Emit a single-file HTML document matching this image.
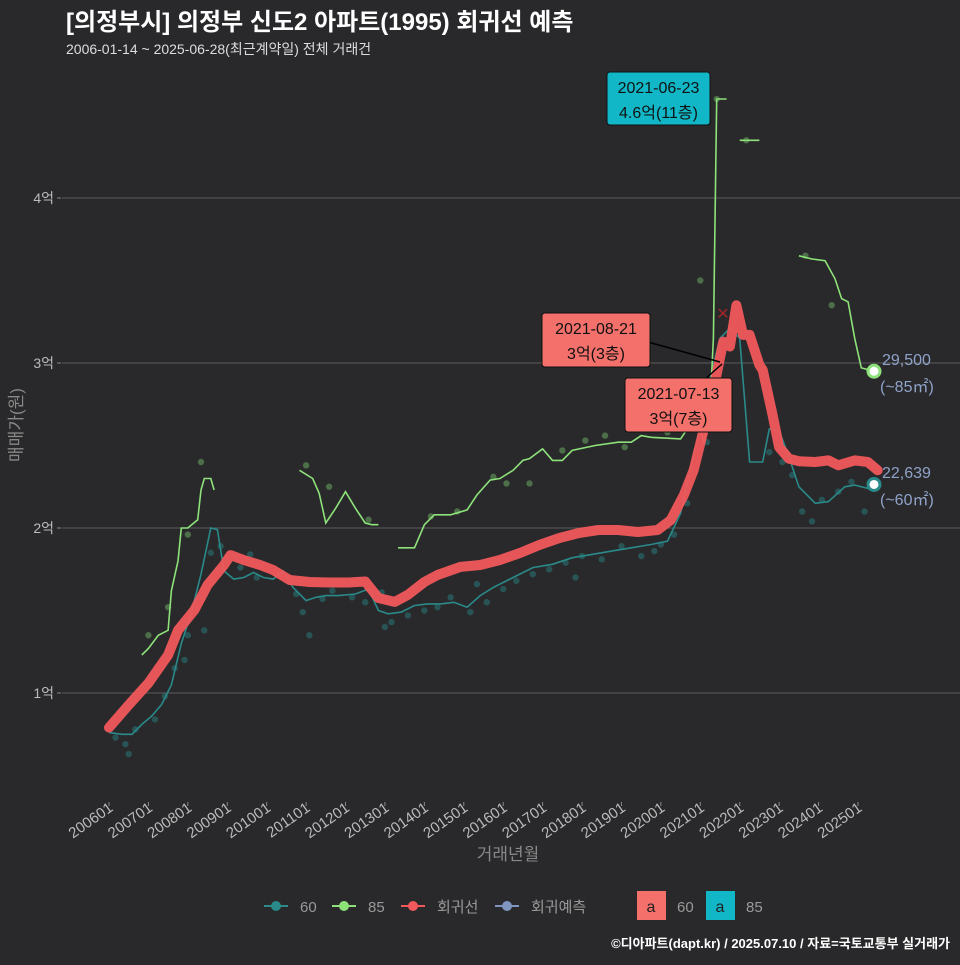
<!DOCTYPE html>
<html><head><meta charset="utf-8">
<style>
body{margin:0;background:#29292b;width:960px;height:960px;overflow:hidden;font-family:"Liberation Sans","Noto Sans CJK KR",sans-serif;}
svg text{font-family:"Liberation Sans","Noto Sans CJK KR",sans-serif;}
</style></head>
<body>
<svg id="chart" width="960" height="960" xmlns="http://www.w3.org/2000/svg">
<rect width="960" height="960" fill="#29292b"/>
<text x="66" y="30" fill="#ffffff" font-size="24" font-weight="bold">[의정부시] 의정부 신도2 아파트(1995) 회귀선 예측</text>
<text x="66" y="54" fill="#dddddd" font-size="14">2006-01-14 ~ 2025-06-28(최근계약일) 전체 거래건</text>
<g id="grid"></g>
<g id="xaxis"></g>
<g id="yaxis"></g>
<text x="508" y="860" fill="#888" font-size="17" text-anchor="middle">거래년월</text>
<text transform="translate(22,425) rotate(-90)" fill="#888" font-size="17" text-anchor="middle">매매가(원)</text>
<g id="marks"></g>
<g>
 <g><line x1="264" y1="906" x2="288" y2="906" stroke="#2a8a8a" stroke-width="2"/><circle cx="276" cy="906" r="5" fill="#2a8a8a"/><text x="300" y="912" fill="#999" font-size="15">60</text></g>
 <g><line x1="332" y1="906" x2="356" y2="906" stroke="#8ee27a" stroke-width="2"/><circle cx="344" cy="906" r="5" fill="#8ee27a"/><text x="368" y="912" fill="#999" font-size="15">85</text></g>
 <g><line x1="401" y1="906" x2="425" y2="906" stroke="#f0595b" stroke-width="2"/><circle cx="413" cy="906" r="5" fill="#f0595b"/><text x="437" y="912" fill="#999" font-size="15">회귀선</text></g>
 <g><line x1="495" y1="906" x2="519" y2="906" stroke="#7f95c0" stroke-width="2"/><circle cx="507" cy="906" r="5" fill="#7f95c0"/><text x="531" y="912" fill="#999" font-size="15">회귀예측</text></g>
 <g><rect x="637" y="891" width="29" height="29" fill="#f4706b"/><text x="651" y="912" fill="#222" font-size="16" text-anchor="middle">a</text><text x="677" y="912" fill="#999" font-size="15">60</text></g>
 <g><rect x="706" y="891" width="29" height="29" fill="#11b7c6"/><text x="720" y="912" fill="#222" font-size="16" text-anchor="middle">a</text><text x="746" y="912" fill="#999" font-size="15">85</text></g>
</g>
<text x="950" y="948" fill="#fff" font-size="13" font-weight="bold" text-anchor="end">©디아파트(dapt.kr) / 2025.07.10 / 자료=국토교통부 실거래가</text>
</svg>
<script>
const yTicks=[10000,20000,30000,40000];
const yTickLabels=["1억","2억","3억","4억"];
const xTickLabels=["200601","200701","200801","200901","201001","201101","201201","201301","201401","201501","201601","201701","201801","201901","202001","202101","202201","202301","202401","202501"];
const regDates=["2006-01","2006-07","2007-01","2007-07","2007-10","2008-03","2008-07","2008-12","2009-02","2009-06","2009-11","2010-03","2010-08","2011-02","2011-08","2012-02","2012-07","2012-11","2013-04","2013-08","2014-01","2014-05","2014-12","2015-06","2015-12","2016-06","2016-12","2017-06","2017-12","2018-06","2018-12","2019-06","2019-12","2020-04","2020-08","2020-11","2021-02","2021-05","2021-08","2021-10","2021-12","2022-02","2022-04","2022-07","2022-08","2022-11","2023-01","2023-04","2023-07","2023-12","2024-04","2024-07","2024-12","2025-04","2025-07"];
const regValues=[7900,9270,10600,12300,13800,15030,16550,17760,18360,18060,17760,17450,16850,16730,16700,16700,16760,15760,15520,15950,16730,17150,17640,17760,18060,18480,18970,19390,19700,19880,19880,19760,19880,20480,22000,23510,25940,28360,31300,31000,33500,31700,31700,29880,29580,26850,24900,24200,24050,24000,24100,23800,24100,24000,23500];
const d85Segs=[
 {dates:["2006-11","2007-01","2007-04","2007-07","2007-08","2007-10","2007-11","2008-01","2008-04","2008-05","2008-06","2008-08","2008-09"],values:[12300,12700,13500,13800,16200,18000,20000,20000,20500,22300,23000,23000,22300]},
 {dates:["2010-11","2011-03","2011-05","2011-07","2011-10","2012-01","2012-04","2012-07","2012-09","2012-11"],values:[23500,23000,22100,20300,21200,22200,21200,20300,20200,20200]},
 {dates:["2013-05","2013-10","2014-01","2014-04","2014-09","2015-02","2015-05","2015-09","2015-12","2016-04","2016-07","2016-09","2017-01","2017-04","2017-07","2017-10","2018-05","2018-12","2019-04","2019-07","2019-10","2020-07","2020-10","2020-12","2021-02","2021-04","2021-05","2021-06","2021-09"],values:[18800,18800,20200,20800,20800,21100,22000,22900,23000,23500,24100,24200,24800,24100,24100,24700,25000,25200,25200,25600,25500,25400,26300,27500,25100,27500,31500,46000,46000]},
 {dates:["2022-01","2022-07"],values:[43500,43500]},
 {dates:["2023-07","2023-11","2024-03","2024-06","2024-08","2024-10","2024-12","2025-02","2025-06"],values:[36500,36300,36200,35100,33900,33700,31500,29700,29500]}
];
const d60Dates=["2006-01","2006-05","2006-08","2006-11","2007-02","2007-05","2007-08","2007-11","2008-02","2008-05","2008-08","2008-10","2008-12","2009-03","2009-06","2009-09","2009-12","2010-03","2010-06","2010-09","2011-01","2011-04","2011-07","2011-11","2012-04","2012-08","2012-11","2013-02","2013-06","2013-10","2014-02","2014-06","2014-10","2015-02","2015-06","2015-10","2016-04","2016-10","2017-04","2017-10","2018-04","2018-10","2019-04","2019-10","2020-03","2020-07","2020-10","2021-01","2021-04","2021-07","2021-10","2022-01","2022-04","2022-08","2022-10","2023-01","2023-04","2023-07","2023-12","2024-04","2024-09","2024-12","2025-06"];
const d60Values=[7600,7500,7500,8100,8600,9300,10500,13000,14800,17200,20000,19900,17400,16900,17000,17300,17000,16900,17400,16400,15600,15800,15900,15900,16000,16300,15000,14800,14900,15300,15400,15400,15500,15200,15900,16400,17000,17600,17800,18200,18400,18600,18800,19000,19200,20900,23600,26000,29100,31500,32100,31500,24000,24000,26000,25900,24300,22500,21500,21600,22500,22600,22300];
const d85PtsDates=["2007-01","2007-07","2008-05","2008-01","2011-01","2011-08","2012-08","2014-03","2014-11","2015-10","2016-02","2017-07","2018-08","2019-02","2020-03","2021-01","2021-06","2022-03","2023-09","2024-05","2016-09","2018-02"];
const d85PtsValues=[13500,15200,24000,19600,23800,22500,20500,20700,21000,23100,22700,24700,25600,24900,25800,35000,46000,43500,36500,33500,22700,25300];
const d60PtsDates=["2006-03","2006-06","2006-07","2006-09","2007-03","2007-06","2007-09","2008-01","2008-04","2008-08","2008-11","2009-05","2009-10","2010-05","2010-10","2011-02","2011-06","2011-09","2012-03","2012-07","2013-01","2013-03","2013-08","2014-01","2014-05","2014-09","2015-03","2015-08","2016-01","2016-05","2016-10","2017-03","2017-08","2018-01","2018-07","2019-01","2019-07","2020-01","2020-05","2020-09","2021-03","2022-10","2023-02","2023-05","2023-08","2023-11","2024-02","2024-07","2024-11","2025-03","2007-12","2009-08","2012-12","2015-05","2017-11","2019-11","2008-06","2010-12"];
const d60PtsValues=[7300,6900,6300,7800,8400,9800,11500,13500,15800,18500,18900,17600,17000,17200,16000,13500,15700,16200,15800,15500,14000,14300,14700,15000,15200,15800,14900,15500,16300,16800,17200,17500,17900,18300,18100,18900,18300,19000,19600,21500,25200,24600,24000,23200,21000,20400,21700,22200,22800,21000,12000,18400,16100,16600,17000,18600,13800,14900];

const NS="http://www.w3.org/2000/svg";
function X(d){const p=d.split("-").map(Number);const m=(p[0]-2006)*12+(p[1]-1)+((p[2]||1)-1)/30;return 109+m/12*39.42;}
function Y(v){return 693-(v-10000)*0.0165;}
function mk(tag,attrs,parent){const e=document.createElementNS(NS,tag);for(const k in attrs)e.setAttribute(k,attrs[k]);parent.appendChild(e);return e;}
const grid=document.getElementById("grid"),xa=document.getElementById("xaxis"),ya=document.getElementById("yaxis"),marks=document.getElementById("marks");
yTicks.forEach((v,i)=>{
 const l=mk("line",{x1:62,x2:960,y1:Y(v),y2:Y(v),stroke:"#5a5a5c","stroke-width":1},grid);
 
 
 const t=mk("text",{x:54,y:Y(v)+5,fill:"#bbb","font-size":14,"text-anchor":"end"},ya);
 t.textContent=yTickLabels[i];
 
 
 mk("line",{x1:57,x2:61,y1:Y(v),y2:Y(v),stroke:"#888"},ya);
});
xTickLabels.forEach(s=>{
 const x=X(s.slice(0,4)+"-"+s.slice(4));
 mk("line",{x1:x,x2:x,y1:802,y2:806,stroke:"#888"},xa);
 const t=mk("text",{transform:`translate(${x+5},${810}) rotate(-35)`,fill:"#bbb","font-size":15,"text-anchor":"end"},xa);
 t.textContent=s;
 
 
});
function path(dates,vals){return dates.map((d,i)=>(i?"L":"M")+X(d).toFixed(1)+","+Y(vals[i]).toFixed(1)).join("");}
d60PtsDates.forEach((d,i)=>{const c=mk("circle",{cx:X(d),cy:Y(d60PtsValues[i]),r:3.2,fill:"#2a8a8a","fill-opacity":0.45},marks);
 
 });
d85PtsDates.forEach((d,i)=>{const c=mk("circle",{cx:X(d),cy:Y(d85PtsValues[i]),r:3.2,fill:"#6aa860","fill-opacity":0.55},marks);
 
 });
const l60=mk("path",{d:path(d60Dates,d60Values),fill:"none",stroke:"#2a8a8a","stroke-width":1.6},marks);


d85Segs.forEach(s=>{const p=mk("path",{d:path(s.dates,s.values),fill:"none",stroke:"#8ee27a","stroke-width":1.6},marks);
 
 });
const reg=mk("path",{d:path(regDates,regValues),fill:"none",stroke:"#f0595b","stroke-width":10,"stroke-linejoin":"round","stroke-linecap":"round","stroke-opacity":0.95},marks);


const xm=mk("text",{x:723,y:319,fill:"#a0262a","font-size":16,"text-anchor":"middle"},marks);xm.textContent="✕";


const e85=mk("circle",{cx:874,cy:Y(29500),r:6,fill:"#fff",stroke:"#8ee27a","stroke-width":3},marks);


const e60=mk("circle",{cx:874,cy:Y(22639),r:6,fill:"#fff",stroke:"#2a8a8a","stroke-width":3},marks);


function lbl(x,y,txt,name){const t=mk("text",{x:x,y:y,fill:"#8fa2c8","font-size":16},marks);t.textContent=txt;}
lbl(882,365,"29,500","end-label-85-price");lbl(880,392,"(~85㎡)","end-label-85-area");
lbl(882,478,"22,639","end-label-60-price");lbl(880,505,"(~60㎡)","end-label-60-area");
mk("line",{x1:648,y1:342,x2:720,y2:362,stroke:"#000","stroke-width":1.5},marks);
mk("line",{x1:704,y1:380,x2:722,y2:364,stroke:"#000","stroke-width":1.5},marks);
function box(x,y,w,h,fill,l1,l2,name){const g=mk("g",{},marks);
 mk("rect",{x:x,y:y,width:w,height:h,rx:3,fill:fill,stroke:"#111","stroke-width":1},g);
 const a=mk("text",{x:x+w/2,y:y+21,"font-size":16,fill:"#111","text-anchor":"middle"},g);a.textContent=l1;
 const b=mk("text",{x:x+w/2,y:y+46,"font-size":16,fill:"#111","text-anchor":"middle"},g);b.textContent=l2;}
box(607,72,103,53,"#11b7c6","2021-06-23","4.6억(11층)","annotation-max-85");
box(542,313,108,54,"#f4706b","2021-08-21","3억(3층)","annotation-2021-08-21");
box(625,378,107,54,"#f4706b","2021-07-13","3억(7층)","annotation-2021-07-13");
</script>
</body></html>
